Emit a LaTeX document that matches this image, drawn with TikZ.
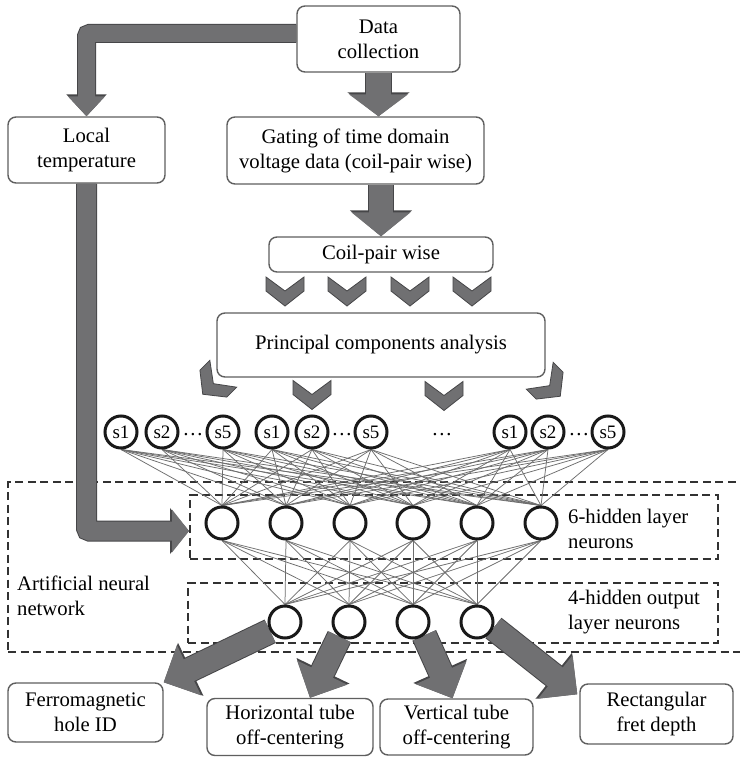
\documentclass[tikz,border=0pt]{standalone}
\usepackage{fontspec}
\setmainfont{Liberation Serif}
\usetikzlibrary{arrows.meta,calc}
\pgfdeclarelayer{back}
\pgfdeclarelayer{mid}
\pgfsetlayers{back,mid,main}
\definecolor{arrowgray}{RGB}{112,112,114}
\definecolor{arrowedge}{RGB}{70,70,72}
\definecolor{boxedge}{RGB}{95,95,95}
\definecolor{netline}{RGB}{110,110,110}
\definecolor{dashgray}{RGB}{50,50,50}
\definecolor{ringcol}{RGB}{25,25,25}

\tikzset{
  txt/.style={font=\fontsize{20.7}{25}\selectfont},
  box/.style={txt, draw=boxedge, line width=1.4pt, rounded corners=8pt, fill=white,
    align=center, inner sep=0pt},
  neuron/.style={circle, draw=ringcol, line width=3pt, fill=white, minimum size=32pt,
    inner sep=0pt, font=\fontsize{19}{19}\selectfont},
  layerbox/.style={draw=dashgray, line width=2pt, dash pattern=on 8pt off 4.5pt, inner sep=0pt},
  layertext/.style={txt, align=left, anchor=west, inner sep=0pt},
  link/.style={draw=netline, line width=0.75pt},
  % thick block arrow: shaft, head width, head length, then the same for the dark rim
  fat/.style n args={6}{draw=arrowgray, line width=#1, -{Triangle[width=#2,length=#3]},
    preaction={draw=arrowedge, line width=#4, -{Triangle[width=#5,length=#6]}}},
  outarrow/.style={fat={24pt}{54pt}{28pt}{26pt}{57pt}{30pt}},
  chevron/.pic={
    \draw[draw=arrowedge, fill=arrowgray, line width=0.8pt, line join=miter]
      (-19,-14.5) -- (0,-0.5) -- (19,-14.5) -- (19,-0.5) -- (0,14.5) -- (-19,-0.5) -- cycle;
  }
}

\begin{document}
\begin{tikzpicture}[x=1pt,y=-1pt]
\useasboundingbox (0,0) rectangle (739,757);

% dashed frames of the network
\begin{pgfonlayer}{back}
  \fill[white] (0,0) rectangle (739,757);
  \node[layerbox, minimum width=760pt, minimum height=170pt] (ann) at (388,567) {};
  \node[layerbox, minimum width=528pt, minimum height=64pt] (hidbox) at (454,527) {};
  \node[layerbox, minimum width=530pt, minimum height=60pt] (outbox) at (453,613) {};
\end{pgfonlayer}

% process boxes
\node[box, minimum width=163pt, minimum height=66pt] (dc) at (378.5,39) {Data\\collection};
\node[box, minimum width=157pt, minimum height=66pt] (lt) at (86.5,150) {Local\\temperature};
\node[box, minimum width=257pt, minimum height=67pt] (gt) at (355.5,150.5)
  {Gating of time domain\\voltage data (coil-pair wise)};
\node[box, minimum width=224pt, minimum height=35pt] (cp) at (381,254.5) {Coil-pair wise};
\node[box, minimum width=328pt, minimum height=64pt] (pca) at (381,345)
  {Principal components analysis};

% result boxes
\node[box, minimum width=155pt, minimum height=59pt] (fe) at (85.5,712.5) {Ferromagnetic\\hole ID};
\node[box, minimum width=166pt, minimum height=57pt] (hz) at (290,727) {Horizontal tube\\off-centering};
\node[box, minimum width=153pt, minimum height=56pt] (vt) at (456.5,727) {Vertical tube\\off-centering};
\node[box, minimum width=153pt, minimum height=60pt] (rf) at (656.5,714) {Rectangular\\fret depth};

% layer captions
\node[layertext] (annlabel) at (17,596) {Artificial neural\\network};
\node[layertext] (hidlabel) at (568,529) {6-hidden layer\\neurons};
\node[layertext] (outlabel) at (568,612) {4-hidden output\\layer neurons};

% input neurons
\foreach \n/\x/\t in {i1/121/s1, i2/162/s2, i3/223/s5, i4/272/s1, i5/312/s2, i6/371/s5,
                      i7/510/s1, i8/548/s2, i9/608/s5}
  \node[neuron] (\n) at (\x,432) {\t};
\foreach \n/\x in {d1/193, d2/342, d3/442, d4/579}
  \node[txt, anchor=base, inner sep=0pt] (\n) at (\x,435) {…};

% hidden and output neurons
\foreach \n/\x in {h1/222, h2/286, h3/350, h4/413, h5/477, h6/541}
  \node[neuron] (\n) at (\x,523) {};
\foreach \n/\x in {o1/285, o2/349, o3/413, o4/477}
  \node[neuron] (\n) at (\x,622) {};

% weights
\begin{pgfonlayer}{back}
  \foreach \i in {i1,i2,i3,i4,i5,i6,i7,i8,i9}
    \foreach \h in {h1,h2,h3,h4,h5,h6}
      \draw[link] (\i.south) -- (\h.north);
  \foreach \h in {h1,h2,h3,h4,h5,h6}
    \foreach \o in {o1,o2,o3,o4}
      \draw[link] (\h.south) -- (\o.north);
\end{pgfonlayer}

% block arrows and chevrons
\begin{pgfonlayer}{mid}
  \draw[fat={17pt}{36pt}{20pt}{19pt}{39pt}{22pt}, rounded corners=3pt]
    ($(dc.west)+(0,-5.5)$) -| (lt.north);
  \draw[fat={25pt}{58pt}{22pt}{27pt}{61pt}{24pt}] (dc.south) -- (dc.south |- gt.north);
  \draw[fat={24pt}{58pt}{24pt}{26pt}{61pt}{26pt}] (cp.north |- gt.south) -- (cp.north);
  \draw[fat={19pt}{42pt}{17pt}{21pt}{45pt}{19pt}, rounded corners=3pt]
    (lt.south) |- ($(hidbox.west)+(0,4)$);

  \draw[outarrow] (o1.212) -- (fe.north east);
  \draw[outarrow] (o2.237) -- ($(hz.north)+(20,0)$);
  \draw[outarrow] (o3.310) -- ($(vt.north)+(-4,0)$);
  \draw[outarrow] (o4.340) -- ($(rf.north west)+(-2,11)$);

  \foreach \x in {285,347,410,472}
    \pic at (\x,291.5) {chevron};
  \pic at (312,395) {chevron};
  \pic at (444,396) {chevron};
  \pic[rotate=-45] at (213,384) {chevron};
  \pic[rotate=45] at (550,386) {chevron};
\end{pgfonlayer}
\end{tikzpicture}
\end{document}
